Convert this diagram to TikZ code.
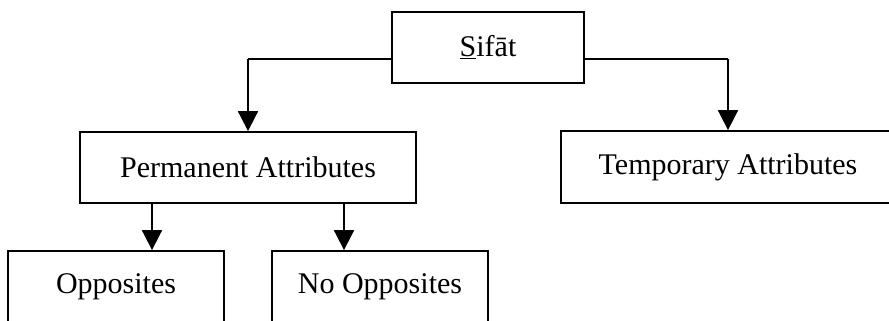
\documentclass[tikz,border=0pt]{standalone}
\usepackage{fontspec}
\setmainfont{Liberation Serif}
\usetikzlibrary{arrows.meta}
\begin{document}
\begin{tikzpicture}[x=1pt,y=-1pt,
  box/.style={draw,line width=1.8pt,inner sep=0pt,font=\fontsize{30}{34}\selectfont},
  arr/.style={line width=1.8pt,-{Triangle[length=20pt,width=20pt]}},
  conn/.style={line width=1.8pt}]
\useasboundingbox (0,0) rectangle (889,321);
\clip (0,0) rectangle (889,321);
\fill[white] (0,0) rectangle (889,321);
\node[box,minimum width=192pt,minimum height=71pt] (sifat) at (488,47.5) {\underline{S}ifāt};
\node[box,minimum width=336pt,minimum height=71pt] (perm) at (248,167.5) {Permanent Attributes};
\node[box,minimum width=334pt,minimum height=72pt] (temp) at (728,167) {Temporary Attributes};
\node[box,minimum width=216pt,minimum height=71pt] (opp) at (116,286.5) {Opposites};
\node[box,minimum width=216pt,minimum height=71pt] (noopp) at (380,286.5) {No Opposites};
\coordinate (jl) at (248,59);
\coordinate (jr) at (728,59);
\coordinate (pa) at (152,0);
\coordinate (pb) at (344,0);
\draw[conn] (sifat.west |- jl) -- (jl);
\draw[arr] (jl) -- (perm.north);
\draw[conn] (sifat.east |- jr) -- (jr);
\draw[arr] (jr) -- (temp.north);
\draw[arr] (perm.south -| pa) -- (opp.north -| pa);
\draw[arr] (perm.south -| pb) -- (noopp.north -| pb);
\end{tikzpicture}
\end{document}
